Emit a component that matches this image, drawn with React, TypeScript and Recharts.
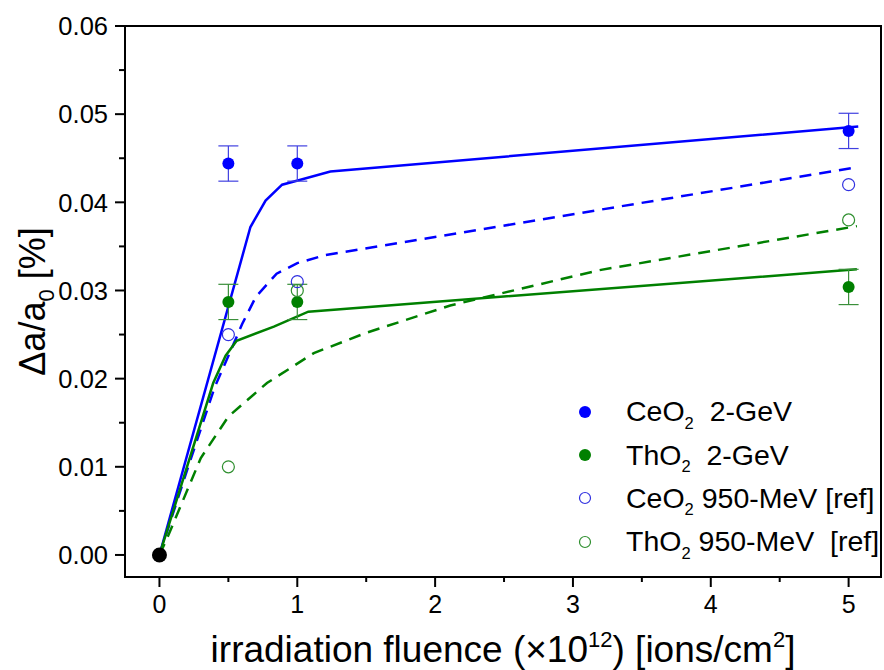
import React from 'react';
import {
  ComposedChart,
  Line,
  Scatter,
  XAxis,
  YAxis,
  ErrorBar,
  ReferenceArea,
  Legend,
  Label,
} from 'recharts';

// fluence in units of 10^12 ions/cm^2, lattice change in %
const fluence = [0.5, 1, 5];

const ceo2Gev = [0.0444, 0.0444, 0.0481];
const ceo2GevErr = [0.002, 0.002, 0.002];
const tho2Gev = [0.0287, 0.0287, 0.0304];
const tho2GevErr = [0.002, 0.002, 0.002];
const ceo2Mev = [0.025, 0.031, 0.042];
const tho2Mev = [0.01, 0.03, 0.038];

const originX = [0];
const originY = [0];

// fit curves
const ceo2FitX = [0, 0.66, 0.77, 0.89, 1.01, 1.24, 5.07];
const ceo2FitY = [0, 0.0372, 0.0402, 0.042, 0.0425, 0.0435, 0.0486];
const ceo2RefFitX = [0, 0.2, 0.4, 0.54, 0.6, 0.7, 0.85, 1.0, 1.2, 5.07];
const ceo2RefFitY = [0, 0.0096, 0.019, 0.024, 0.0262, 0.0293, 0.0319, 0.0331, 0.034, 0.044];
const tho2FitX = [0, 0.39, 0.48, 0.56, 0.83, 1.08, 5.06];
const tho2FitY = [0, 0.0195, 0.0226, 0.0243, 0.0259, 0.0276, 0.0324];
const tho2RefFitX = [0, 0.05, 0.3, 0.5, 0.78, 1.12, 1.5, 2.11, 3.19, 5.06];
const tho2RefFitY = [0, 0.0017, 0.011, 0.0157, 0.0195, 0.0229, 0.0252, 0.0283, 0.0323, 0.0373];

const xTickValues = [0, 0.5, 1, 1.5, 2, 2.5, 3, 3.5, 4, 4.5, 5];
const yTickValues = [0, 0.005, 0.01, 0.015, 0.02, 0.025, 0.03, 0.035, 0.04, 0.045, 0.05, 0.055, 0.06];

const X_MIN = -0.25;
const X_MAX = 5.235;
const Y_MIN = -0.0025;
const Y_MAX = 0.06;

const BLUE = '#0000ff';
const GREEN = '#008000';
const FONT = "'Liberation Sans', Arial, sans-serif";

const zip = (xs: number[], ys: number[], errs?: number[]) =>
  xs.map((x, i) => (errs ? { x, y: ys[i], err: errs[i] } : { x, y: ys[i] }));

const filledDot = (color: string, r: number) => (p: any) =>
  <circle cx={p.cx} cy={p.cy} r={r} fill={color} />;
const openDot = (color: string) => (p: any) =>
  <circle cx={p.cx} cy={p.cy} r={6} fill="none" stroke={color} strokeWidth={1.2} />;

function XTick(props: any) {
  const { x, y, payload } = props;
  const v = payload.value;
  const major = Number.isInteger(v);
  return (
    <g>
      <line x1={x} x2={x} y1={y} y2={y + (major ? 10 : 5)} stroke="#000" strokeWidth={2} />
      {major && (
        <text x={x} y={y + 36} textAnchor="middle" fontSize={25} fontFamily={FONT} fill="#000">
          {v}
        </text>
      )}
    </g>
  );
}

function YTick(props: any) {
  const { x, y, payload } = props;
  const v = payload.value;
  const major = Math.round(v * 1000) % 10 === 0;
  return (
    <g>
      <line x1={x - (major ? 10 : 6)} x2={x} y1={y} y2={y} stroke="#000" strokeWidth={2} />
      {major && (
        <text x={x - 17} y={y} dy="0.36em" textAnchor="end" fontSize={25.5} fontFamily={FONT} fill="#000">
          {v.toFixed(2)}
        </text>
      )}
    </g>
  );
}

const legendItems = [
  { formula: 'CeO', label: '  2-GeV', color: BLUE, filled: true },
  { formula: 'ThO', label: '  2-GeV', color: GREEN, filled: true },
  { formula: 'CeO', label: ' 950-MeV [ref]', color: '#3030e0', filled: false },
  { formula: 'ThO', label: ' 950-MeV  [ref]', color: '#2f8f2f', filled: false },
];

function LegendBox() {
  return (
    <div style={{ fontFamily: FONT, fontSize: 28.5, color: '#000' }}>
      {legendItems.map((item) => (
        <div key={item.formula + item.label} style={{ display: 'flex', alignItems: 'center', height: 43.3 }}>
          <svg width={14} height={14}>
            {item.filled ? (
              <circle cx={7} cy={7} r={6} fill={item.color} />
            ) : (
              <circle cx={7} cy={7} r={5.5} fill="none" stroke={item.color} strokeWidth={1.2} />
            )}
          </svg>
          <span style={{ marginLeft: 34, whiteSpace: 'pre', lineHeight: 1 }}>
            {item.formula}
            <span style={{ fontSize: '0.58em', position: 'relative', top: '0.45em' }}>2</span>
            {item.label}
          </span>
        </div>
      ))}
    </div>
  );
}

export default function App() {
  return (
    <div style={{ position: 'absolute', left: 0, top: 0, background: '#fff' }}>
      <ComposedChart width={884} height={670} margin={{ top: 26, right: 3, bottom: 0, left: 0 }}>
        <XAxis
          type="number"
          dataKey="x"
          domain={[X_MIN, X_MAX]}
          allowDataOverflow
          ticks={xTickValues}
          interval={0}
          tickSize={0}
          tickMargin={0}
          tickLine={false}
          tick={(p: any) => <XTick {...p} />}
          axisLine={{ stroke: '#000', strokeWidth: 2 }}
          height={93}
        >
          <Label
            content={(p: any) => {
              const vb = p.viewBox;
              return (
                <text x={vb.x + vb.width / 2} y={vb.y + 85} textAnchor="middle" fontSize={37} fontFamily={FONT} fill="#000">
                  irradiation fluence (×10
                  <tspan fontSize={22} dy={-15}>12</tspan>
                  <tspan dy={15}>) [ions/cm</tspan>
                  <tspan fontSize={22} dy={-15}>2</tspan>
                  <tspan dy={15}>]</tspan>
                </text>
              );
            }}
          />
        </XAxis>
        <YAxis
          type="number"
          dataKey="y"
          domain={[Y_MIN, Y_MAX]}
          allowDataOverflow
          ticks={yTickValues}
          interval={0}
          tickSize={0}
          tickMargin={0}
          tickLine={false}
          tick={(p: any) => <YTick {...p} />}
          axisLine={{ stroke: '#000', strokeWidth: 2 }}
          width={125}
        >
          <Label
            content={(p: any) => {
              const vb = p.viewBox;
              const cx = 45;
              const cy = vb.y + vb.height / 2;
              return (
                <text x={cx} y={cy} transform={`rotate(-90, ${cx}, ${cy})`} textAnchor="middle" fontSize={36} fontFamily={FONT} fill="#000">
                  Δa/a
                  <tspan fontSize={22} dy={9}>0</tspan>
                  <tspan dy={-9}> [%]</tspan>
                </text>
              );
            }}
          />
        </YAxis>
        <ReferenceArea x1={X_MIN} x2={X_MAX} y1={Y_MIN} y2={Y_MAX} fill="none" stroke="#000" strokeWidth={2} />

        <Line data={zip(ceo2FitX, ceo2FitY)} dataKey="y" type="linear" stroke={BLUE} strokeWidth={2.5} dot={false} legendType="none" isAnimationActive={false} />
        <Line data={zip(ceo2RefFitX, ceo2RefFitY)} dataKey="y" type="linear" stroke={BLUE} strokeWidth={2.5} strokeDasharray="12 8" dot={false} legendType="none" isAnimationActive={false} />
        <Line data={zip(tho2FitX, tho2FitY)} dataKey="y" type="linear" stroke={GREEN} strokeWidth={2.5} dot={false} legendType="none" isAnimationActive={false} />
        <Line data={zip(tho2RefFitX, tho2RefFitY)} dataKey="y" type="linear" stroke={GREEN} strokeWidth={2.5} strokeDasharray="12 8" dot={false} legendType="none" isAnimationActive={false} />

        <Scatter data={zip(fluence, ceo2Gev, ceo2GevErr)} shape={filledDot(BLUE, 6)} isAnimationActive={false}>
          <ErrorBar dataKey="err" direction="y" width={10} stroke="#4040e0" strokeWidth={1.2} />
        </Scatter>
        <Scatter data={zip(fluence, tho2Gev, tho2GevErr)} shape={filledDot(GREEN, 6)} isAnimationActive={false}>
          <ErrorBar dataKey="err" direction="y" width={10} stroke="#3a8f3a" strokeWidth={1.2} />
        </Scatter>
        <Scatter data={zip(fluence, ceo2Mev)} shape={openDot('#3030e0')} isAnimationActive={false} />
        <Scatter data={zip(fluence, tho2Mev)} shape={openDot('#2f8f2f')} isAnimationActive={false} />
        <Scatter data={zip(originX, originY)} shape={filledDot('#000', 7.5)} isAnimationActive={false} />

        <Legend
          layout="vertical"
          align="center"
          verticalAlign="middle"
          content={() => <LegendBox />}
          wrapperStyle={{ left: 578, top: 390, width: 306 }}
        />
      </ComposedChart>
    </div>
  );
}
